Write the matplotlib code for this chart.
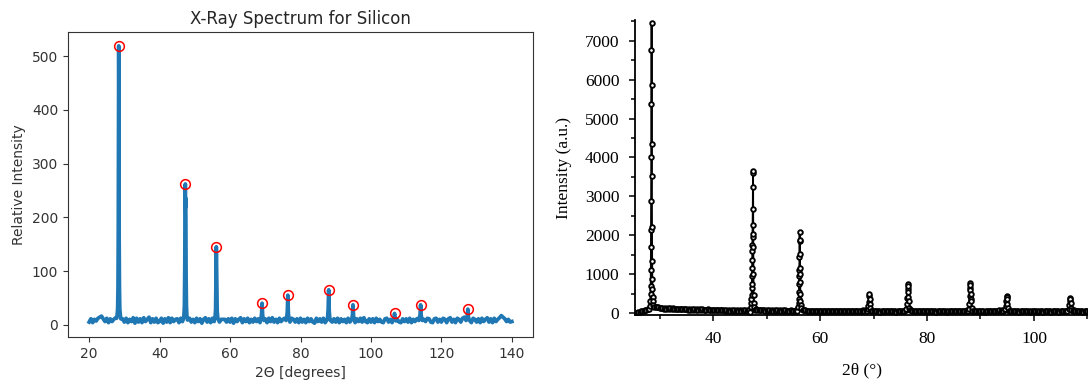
import numpy as np
import matplotlib
matplotlib.use("Agg")
import matplotlib.pyplot as plt
from matplotlib.ticker import MultipleLocator

# ---------------- Left panel data: X-Ray spectrum for silicon ----------------
si_base_start = 20.0
si_base_step = 0.5
si_base_counts = [
    5, 11, 4, 10, 7, 12, 14, 16, 11, 6, 12, 4, 11, 6, 10, 13, 14, 14, 12, 11,
    5, 12, 4, 10, 6, 13, 3, 12, 5, 11, 4, 13, 6, 10, 14, 4, 11, 5, 12, 4,
    6, 12, 3, 11, 5, 13, 4, 12, 6, 10, 11, 4, 12, 6, 9, 9, 9, 12, 5, 10,
    4, 12, 6, 11, 3, 10, 13, 5, 11, 4, 12, 6, 10, 13, 5, 10, 10, 10, 5, 11,
    5, 12, 3, 11, 6, 10, 13, 4, 11, 6, 12, 4, 10, 5, 12, 6, 11, 4, 12, 5,
    11, 4, 12, 6, 13, 5, 10, 4, 12, 6, 10, 12, 4, 11, 5, 12, 10, 5, 11, 4,
    12, 5, 10, 4, 12, 6, 11, 5, 3, 12, 6, 11, 5, 12, 4, 10, 12, 13, 5, 11,
    5, 12, 4, 11, 6, 10, 4, 12, 5, 10, 12, 4, 11, 6, 12, 5, 13, 6, 4, 11,
    5, 11, 4, 12, 6, 10, 5, 4, 11, 12, 5, 10, 4, 6, 12, 10, 5, 4, 11, 6,
    11, 5, 12, 4, 10, 6, 11, 12, 5, 4, 10, 6, 12, 11, 5, 4, 11, 12, 5, 10,
    5, 12, 10, 4, 11, 13, 5, 10, 4, 12, 10, 5, 12, 14, 12, 5, 10, 4, 12, 10,
    5, 11, 4, 12, 6, 10, 13, 5, 11, 4, 12, 6, 10, 13, 17, 14, 11, 6, 10, 5,
    6,
]
si_peak_centers = [28.4, 47.3, 56.1, 69.1, 76.4, 88.0, 94.9, 106.7, 114.1, 127.5]
si_peak_heights = [519, 262, 145, 40, 55, 65, 37, 21, 37, 29]
si_peak_dx = [
    [-0.6, -0.45, -0.3, -0.2, -0.12, -0.06, 0, 0.06, 0.12, 0.2, 0.3, 0.45, 0.6],
    [-0.6, -0.4, -0.25, -0.14, -0.07, 0, 0.05, 0.1, 0.15, 0.22, 0.32, 0.45, 0.6],
    [-0.55, -0.35, -0.2, -0.1, -0.04, 0, 0.06, 0.14, 0.25, 0.4, 0.55],
    [-0.5, -0.3, -0.15, -0.05, 0, 0.06, 0.15, 0.3, 0.5],
    [-0.5, -0.3, -0.15, -0.05, 0, 0.06, 0.15, 0.3, 0.5],
    [-0.5, -0.3, -0.15, -0.05, 0, 0.06, 0.15, 0.3, 0.5],
    [-0.5, -0.3, -0.15, -0.05, 0, 0.06, 0.15, 0.3, 0.5],
    [-0.5, -0.3, -0.15, -0.05, 0, 0.06, 0.15, 0.3, 0.5],
    [-0.5, -0.3, -0.15, -0.05, 0, 0.06, 0.15, 0.3, 0.5],
    [-0.5, -0.3, -0.15, -0.05, 0, 0.06, 0.15, 0.3, 0.5],
]
si_peak_y = [
    [12, 18, 30, 70, 180, 400, 519, 420, 160, 70, 30, 18, 11],
    [10, 16, 35, 110, 230, 262, 218, 236, 200, 90, 35, 16, 9],
    [9, 14, 28, 80, 130, 145, 115, 60, 25, 14, 10],
    [8, 12, 20, 34, 40, 32, 18, 12, 8],
    [8, 13, 24, 45, 55, 44, 22, 12, 9],
    [9, 14, 28, 55, 65, 52, 26, 13, 8],
    [8, 12, 18, 30, 37, 29, 17, 11, 8],
    [7, 10, 14, 18, 21, 18, 13, 9, 7],
    [8, 12, 19, 31, 37, 30, 18, 12, 8],
    [8, 11, 16, 25, 29, 24, 15, 11, 8],
]

# ---------------- Right panel data: XRD pattern ----------------
xrd_base_start = 25.5
xrd_base_step = 0.25
xrd_base_counts = [
    0, 10, 25, 35, 50, 45, 60, 70, 75, 90, 100, 110, 125, 140, 150, 145, 160, 150, 140, 135,
    130, 110, 125, 105, 120, 100, 115, 95, 118, 102, 110, 92, 112, 98, 105, 90, 108, 94, 100, 88,
    102, 86, 98, 84, 95, 80, 97, 82, 92, 78, 94, 80, 88, 74, 90, 76, 86, 72, 88, 70,
    84, 68, 86, 66, 80, 64, 82, 62, 78, 60, 80, 58, 76, 62, 74, 56, 78, 60, 72, 58,
    74, 56, 70, 60, 76, 64, 82, 70, 88, 80, 95, 85, 80, 72, 78, 64, 74, 60, 70, 58,
    72, 52, 68, 54, 70, 50, 66, 48, 68, 52, 64, 46, 66, 50, 62, 48, 64, 52, 60, 54,
    68, 60, 78, 70, 88, 80, 72, 64, 62, 50, 60, 46, 58, 44, 56, 48, 58, 42, 56, 46,
    58, 40, 56, 44, 60, 38, 54, 42, 56, 40, 52, 44, 58, 38, 54, 42, 50, 40, 56, 42,
    52, 38, 56, 40, 50, 42, 54, 48, 60, 56, 70, 62, 66, 54, 56, 46, 52, 40, 54, 38,
    50, 42, 56, 36, 52, 40, 54, 38, 50, 44, 56, 38, 52, 40, 54, 36, 50, 42, 56, 40,
    58, 46, 64, 58, 74, 66, 70, 58, 60, 48, 54, 40, 52, 42, 56, 38, 50, 44, 54, 40,
    52, 38, 56, 40, 50, 36, 54, 42, 52, 38, 50, 40, 56, 36, 52, 42, 50, 38, 54, 40,
    50, 38, 54, 42, 52, 44, 58, 52, 68, 62, 74, 66, 62, 54, 56, 46, 50, 40, 54, 38,
    52, 36, 50, 42, 54, 38, 50, 40, 56, 44, 60, 52, 66, 60, 72, 62, 64, 54, 56, 46,
    54, 40, 50, 38, 52, 42, 48, 36, 54, 40, 50, 38, 52, 42, 48, 36, 50, 40, 54, 38,
    48, 36, 52, 40, 50, 34, 48, 38, 52, 40, 46, 36, 50, 38, 48, 40, 52, 34, 48, 38,
    50, 38, 46, 42, 56, 50, 66, 60, 70, 62, 58, 50, 52, 42, 48, 36, 50, 40, 46, 38,
    46,
]
xrd_peak_x = [
    [28.20, 28.26, 28.30, 28.33, 28.36, 28.38, 28.40, 28.42, 28.44, 28.46, 28.48,
     28.50, 28.52, 28.54, 28.56, 28.58, 28.60, 28.63, 28.66, 28.70, 28.75, 28.80],
    [46.95, 47.10, 47.15, 47.18, 47.21, 47.24, 47.26, 47.28, 47.30, 47.32, 47.34,
     47.36, 47.38, 47.40, 47.42, 47.44, 47.46, 47.48, 47.50, 47.52, 47.55, 47.58,
     47.62, 47.70],
    [55.90, 55.98, 56.02, 56.05, 56.08, 56.10, 56.12, 56.14, 56.16, 56.18, 56.20,
     56.22, 56.24, 56.26, 56.28, 56.30, 56.34, 56.40, 56.50],
    [68.95, 69.05, 69.10, 69.15, 69.20, 69.25, 69.30, 69.40],
    [76.15, 76.25, 76.32, 76.37, 76.40, 76.43, 76.47, 76.52, 76.58, 76.70],
    [87.80, 87.90, 87.96, 88.00, 88.03, 88.06, 88.10, 88.14, 88.18, 88.24, 88.35],
    [94.65, 94.75, 94.82, 94.88, 94.92, 94.97, 95.03, 95.15],
    [106.50, 106.60, 106.68, 106.73, 106.78, 106.84, 106.95],
]
xrd_peak_y = [
    [180, 300, 480, 700, 1100, 1700, 2130, 2870, 4000, 5370, 6770,
     7450, 5870, 4340, 3510, 2220, 1330, 870, 620, 420, 300, 200],
    [20, 150, 250, 350, 450, 650, 750, 950, 1150, 1370, 1600,
     1750, 1950, 2250, 2680, 3250, 3600, 3650, 2030, 1700, 1000, 450,
     250, 150],
    [150, 250, 350, 550, 750, 950, 1100, 1450, 1850, 2080, 1880,
     1520, 1150, 1000, 800, 500, 300, 200, 120],
    [100, 180, 280, 430, 500, 350, 230, 130],
    [100, 220, 380, 620, 750, 700, 550, 420, 300, 130],
    [100, 220, 430, 650, 780, 730, 580, 500, 370, 300, 130],
    [100, 180, 300, 430, 400, 350, 230, 120],
    [100, 200, 300, 380, 350, 250, 120],
]


def merge_spectrum(base_x, base_y, peak_xs, peak_ys):
    keep = np.ones(len(base_x), dtype=bool)
    for px in peak_xs:
        keep &= ~((base_x >= min(px) - 0.01) & (base_x <= max(px) + 0.01))
    xs = np.concatenate([base_x[keep]] + [np.asarray(p, float) for p in peak_xs])
    ys = np.concatenate([base_y[keep]] + [np.asarray(p, float) for p in peak_ys])
    order = np.argsort(xs, kind="stable")
    return xs[order], ys[order]


# left spectrum
si_bx = si_base_start + si_base_step * np.arange(len(si_base_counts))
si_by = np.asarray(si_base_counts, float)
si_px = [[c + d for d in dx] for c, dx in zip(si_peak_centers, si_peak_dx)]
x1, y1 = merge_spectrum(si_bx, si_by, si_px, si_peak_y)

# right spectrum
xrd_bx = xrd_base_start + xrd_base_step * np.arange(len(xrd_base_counts))
xrd_by = np.asarray(xrd_base_counts, float)
x2, y2 = merge_spectrum(xrd_bx, xrd_by, xrd_peak_x, xrd_peak_y)

W, H = 1088, 385
fig = plt.figure(figsize=(W / 100, H / 100), dpi=100)

# ---------------- Left axes ----------------
ax1 = fig.add_axes([68 / W, 48 / H, 465 / W, 305 / H])
ax1.plot(x1, y1, color="#1f77b4", lw=2.7)
ax1.plot(si_peak_centers, si_peak_heights, "o", ms=7, mfc="none",
         mec="red", mew=1.1)
ax1.set_title("X-Ray Spectrum for Silicon", fontsize=12, color="#262626")
ax1.set_xlabel("2Θ [degrees]", fontsize=10, color="#333333")
ax1.set_ylabel("Relative Intensity", fontsize=10, color="#333333")
ax1.tick_params(labelsize=10, labelcolor="#333333", color="#333333")
for s in ax1.spines.values():
    s.set_color("#333333")

# ---------------- Right axes ----------------
ax2 = fig.add_axes([635 / W, 69.7 / H, (W - 635) / W, 294.8 / H])
line2, = ax2.plot(x2, y2, "-", color="black", lw=1.3, marker="o", ms=3.3,
                  mfc="white", mec="black", mew=1.35)
line2.set_snap(False)
ax2.set_xlim(25.4, 110.1)
ax2.set_ylim(-60, 7520)
ax2.spines["top"].set_visible(False)
ax2.spines["right"].set_visible(False)
ax2.spines["left"].set_linewidth(1.3)
ax2.spines["bottom"].set_linewidth(1.3)
ax2.xaxis.set_major_locator(MultipleLocator(20))
ax2.xaxis.set_minor_locator(MultipleLocator(10))
ax2.yaxis.set_major_locator(MultipleLocator(1000))
ax2.yaxis.set_minor_locator(MultipleLocator(500))
ax2.tick_params(which="major", length=4.2, width=1.1, pad=7,
                labelsize=12.5, direction="out")
ax2.tick_params(which="minor", length=2.6, width=1.1, direction="out")
for lab in ax2.get_xticklabels() + ax2.get_yticklabels():
    lab.set_fontfamily("Liberation Serif")
ax2.set_xlabel("2θ (°)", fontsize=12.5, family="Liberation Serif", labelpad=11)
ax2.set_ylabel("Intensity (a.u.)", fontsize=12.5, family="Liberation Serif",
               labelpad=9)

fig.savefig("out.png", dpi=100)
